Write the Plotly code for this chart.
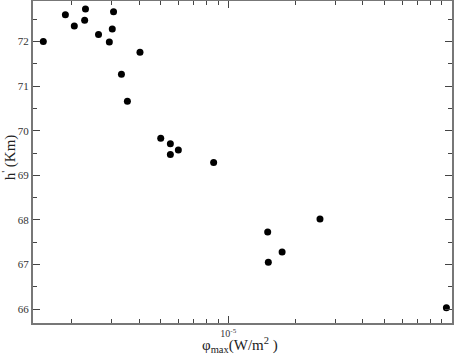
import numpy as np
import plotly.graph_objects as go

# flux (W/m^2) and reflection height h' (km)
phi_max = [1.49e-6, 1.87e-6, 2.05e-6, 2.30e-6, 2.28e-6, 2.63e-6, 2.94e-6, 3.03e-6,
           3.07e-6, 3.33e-6, 3.54e-6, 4.03e-6, 4.99e-6, 5.51e-6, 5.98e-6, 5.51e-6,
           8.6e-6, 1.50e-5, 1.51e-5, 1.74e-5, 2.57e-5, 9.44e-5]
h_ref = [72.00, 72.60, 72.35, 72.73, 72.48, 72.16, 71.99, 72.28, 72.67, 71.27,
         70.66, 71.76, 69.83, 69.71, 69.57, 69.47, 69.29, 67.73, 67.05, 67.28,
         68.02, 66.03]

y_ticks = [66, 67, 68, 69, 70, 71, 72]
y_minor = [65.5, 66.5, 67.5, 68.5, 69.5, 70.5, 71.5, 72.5]
x_ticks = [1e-5]
x_ticktext = ["10<sup>-5</sup>"]
x_minor = [m * 10.0**e for e in (-6, -5) for m in range(2, 10)]

font = "Liberation Serif, Times New Roman, serif"

fig = go.Figure()
fig.add_trace(go.Scatter(x=phi_max, y=h_ref, mode="markers",
                         marker=dict(color="black", size=7), showlegend=False))

fig.update_layout(
    width=454, height=354,
    margin=dict(l=33, r=2, t=1, b=31),
    plot_bgcolor="white", paper_bgcolor="white",
    font=dict(family=font, size=11, color="#333"),
)
fig.update_xaxes(
    type="log", range=[np.log10(1.34e-6), -4], automargin=False,
    tickvals=x_ticks, ticktext=x_ticktext,
    ticks="inside", ticklen=7, tickcolor="#444", tickwidth=1,
    minor=dict(tickvals=x_minor, ticks="inside", ticklen=4, tickcolor="#444", tickwidth=1),
    showline=True, linecolor="#777", linewidth=2, mirror="ticks",
    showgrid=False, zeroline=False, tickfont=dict(size=10),
)
fig.update_yaxes(
    range=[65.69, 72.91], automargin=False,
    tickvals=y_ticks,
    ticks="inside", ticklen=7, tickcolor="#444", tickwidth=1,
    minor=dict(tickvals=y_minor, ticks="inside", ticklen=4, tickcolor="#444", tickwidth=1),
    showline=True, linecolor="#777", linewidth=2, mirror="ticks",
    showgrid=False, zeroline=False, tickfont=dict(size=11),
)

fig.add_annotation(text="h<sup>'</sup> (Km)", xref="paper", yref="paper",
                   x=-0.057, y=0.515, xanchor="center", yanchor="middle",
                   textangle=-90, showarrow=False,
                   font=dict(family=font, size=15, color="#222"))
fig.add_annotation(text="φ<sub>max</sub>(W/m<sup>2</sup> )", xref="paper", yref="paper",
                   x=0.494, y=-0.068, xanchor="center", yanchor="middle", showarrow=False,
                   font=dict(family=font, size=15, color="#222"))

# page body has an 8px default margin; drop it so the figure sits at the corner
fig.write_html("out.html", config={"displayModeBar": False},
               post_script="document.body.style.margin='0';")
